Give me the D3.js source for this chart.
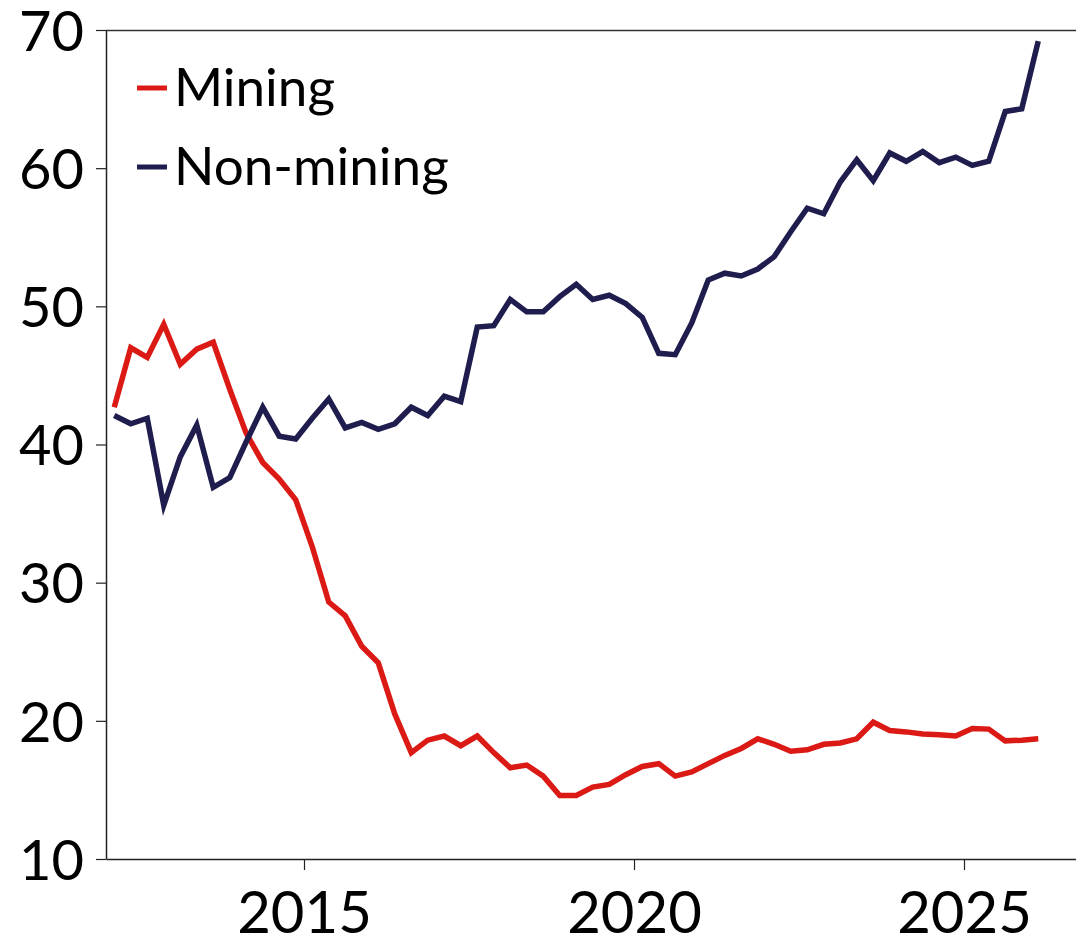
<!DOCTYPE html>
<html><head><meta charset="utf-8">
<script src="https://cdn.jsdelivr.net/npm/d3@7"></script>
<style>body{margin:0;background:#fff}svg{display:block}text{font-family:Lato,"Noto Sans",sans-serif;fill:#000}</style>
</head><body><svg id="c" width="1076" height="943"></svg>
<script>
// Quarterly observations, 2012 Q1 .. 2026 Q1
const startYear = 2012, nQuarters = 57;
const quarters = d3.range(nQuarters).map(i => (startYear + Math.floor(i/4)) + " Q" + (i%4+1));
const mining = [42.7,47.0,46.3,48.7,45.8,46.9,47.4,44.0,40.8,38.7,37.5,36.0,32.6,28.6,27.6,25.4,24.2,20.5,17.7,18.6,18.9,18.2,18.9,17.7,16.6,16.8,16.0,14.6,14.6,15.2,15.4,16.1,16.7,16.9,16.0,16.3,16.9,17.5,18.0,18.7,18.3,17.8,17.9,18.3,18.4,18.7,19.9,19.3,19.2,19.05,19.0,18.9,19.45,19.4,18.55,18.6,18.7];
const nonMining = [42.1,41.5,41.9,35.6,39.1,41.4,36.9,37.6,40.2,42.7,40.6,40.4,41.9,43.3,41.2,41.6,41.1,41.5,42.7,42.1,43.5,43.1,48.5,48.6,50.5,49.6,49.6,50.7,51.6,50.5,50.8,50.2,49.2,46.6,46.5,48.8,51.9,52.4,52.2,52.7,53.6,55.4,57.1,56.7,59.0,60.6,59.1,61.1,60.5,61.2,60.4,60.8,60.2,60.5,64.1,64.3,69.2];
const seriesNames = ["Mining","Non-mining"];
const seriesColors = ["#dc1a15","#1f1c4e"];
const yTicks = [10,20,30,40,50,60,70];
const xTicks = [2015,2020,2025];

const qTime = q => { const [y,qq] = q.split(" Q"); return +y + (+qq - 0.5)/4; };
const svg = d3.select("#c");
const L=106, R=1076, T=30, B=859;
const x = d3.scaleLinear().domain([2012, 2026.697]).range([L,R]);
const y = d3.scaleLinear().domain([10,70]).range([B,T]);

// frame top line
svg.append("line").attr("x1",L).attr("x2",R).attr("y1",T+0.5).attr("y2",T+0.5).attr("stroke","#333").attr("stroke-width",1.5);

const ya = svg.append("g").attr("transform",`translate(${L},0)`)
  .call(d3.axisLeft(y).tickValues(yTicks).tickSize(10).tickSizeOuter(0).tickPadding(12).tickFormat(d3.format("d")));
ya.select(".domain").attr("stroke","#222").attr("stroke-width",1.5);
ya.selectAll(".tick line").attr("stroke","#222").attr("stroke-width",1.2);
ya.selectAll("text").attr("font-size",56).attr("dy","0.36em").attr("font-family","Lato");

const xa = svg.append("g").attr("transform",`translate(0,${B})`)
  .call(d3.axisBottom(x).tickValues(xTicks).tickSize(11).tickSizeOuter(0).tickPadding(22).tickFormat(d3.format("d")));
xa.select(".domain").attr("stroke","#222").attr("stroke-width",1.5);
xa.selectAll(".tick line").attr("stroke","#222").attr("stroke-width",1.2);
xa.selectAll("text").attr("font-size",58).attr("dy","0.71em").attr("font-family","Lato");

const line = d3.line().x((d,i)=>x(qTime(quarters[i]))).y(d=>y(d));
[mining, nonMining].forEach((s,k)=>{
  svg.append("path").datum(s).attr("d",line).attr("fill","none")
    .attr("stroke",seriesColors[k]).attr("stroke-width",5.5).attr("stroke-linejoin","miter");
});

// legend
seriesNames.forEach((n,k)=>{
  const yy = 88 + k*79;
  svg.append("line").attr("x1",137).attr("x2",167).attr("y1",yy).attr("y2",yy)
    .attr("stroke",seriesColors[k]).attr("stroke-width",5);
  svg.append("text").attr("x",174).attr("y",yy+18).attr("font-size",53).text(n);
});
</script></body></html>
